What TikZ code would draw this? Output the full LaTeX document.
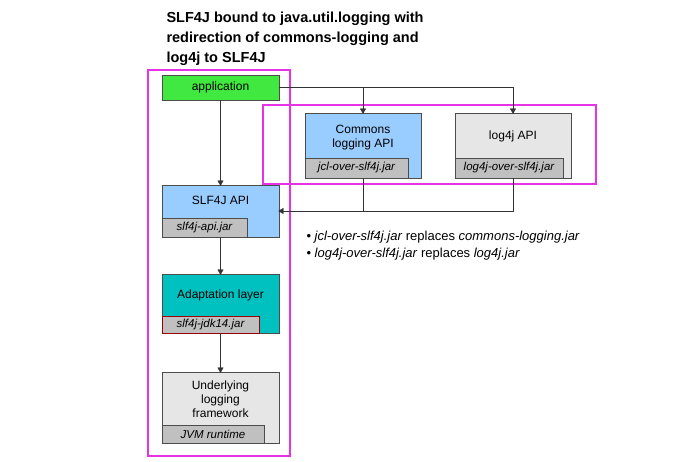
\documentclass[tikz,border=0pt]{standalone}
\usepackage{fontspec}
\setmainfont{Liberation Sans}
\usetikzlibrary{positioning,arrows}
\begin{document}
\begin{tikzpicture}[x=1pt,y=-1pt,
box/.style={draw=black!70, minimum width=117pt, font=\fontsize{12}{14}\selectfont, align=center, inner sep=0pt},
jar/.style={draw=black!70, fill=jargray, minimum height=19pt, inner sep=2pt, font=\fontsize{11.5}{13}\selectfont\itshape, anchor=south west},
frame/.style={draw=framemag, line width=2.4pt},
conn/.style={draw=black!80, -triangle 60, shorten >=-1pt}
]
\definecolor{appgreen}{HTML}{40E840}
\definecolor{apiblue}{HTML}{99CCFF}
\definecolor{adteal}{HTML}{00C0C0}
\definecolor{lightgray}{HTML}{E6E6E6}
\definecolor{jargray}{HTML}{C0C0C0}
\definecolor{framemag}{HTML}{E633E6}
\useasboundingbox (0,0) rectangle (676,461);
% title
\node[anchor=north west, align=left, font=\fontsize{14.5}{20}\selectfont\bfseries] (title) at (163,8)
  {SLF4J bound to java.util.logging with\\redirection of commons-logging and\\log4j to SLF4J};
% left column
\node[box, fill=appgreen, minimum height=25pt] (app) at (220.5,87.5) {application};
\node[box, fill=apiblue, minimum height=52pt, text depth=22pt] (slf) at (220.5,211) {SLF4J API};
\node[jar, minimum width=85pt] (slfjar) at (slf.south west) {slf4j-api.jar};
\node[box, fill=adteal, minimum height=59pt, text depth=18pt] (adapt) at (220.5,303.5) {Adaptation layer};
\node[jar, draw=red!60!black, minimum width=97pt, minimum height=17pt] (adjar) at (adapt.south west) {slf4j-jdk14.jar};
\node[box, fill=lightgray, minimum height=71pt, text depth=16pt] (under) at (220.5,407.5) {Underlying\\logging\\framework};
\node[jar, minimum width=102pt, minimum height=18pt] (underjar) at (under.south west) {JVM runtime};
% redirected APIs
\node[box, fill=apiblue, minimum width=116pt, minimum height=65pt, text depth=18pt] (jcl) at (363,145.5) {Commons\\logging API};
\node[jar, minimum width=103pt, minimum height=20pt] (jcljar) at (jcl.south west) {jcl-over-slf4j.jar};
\node[box, fill=lightgray, minimum width=116pt, minimum height=65pt, text depth=20pt] (l4j) at (513,145.5) {log4j API};
\node[jar, minimum width=108pt, minimum height=20pt] (l4jjar) at (l4j.south west) {log4j-over-slf4j.jar};
% frames
\draw[frame] (148,70) rectangle (290,456);
\draw[frame] (263,105) rectangle (596,184);
% connectors
\draw[conn] (app.east) -| (l4j.north);
\draw[conn] (app.east -| jcl.north) -- (jcl.north);
\draw[conn] (app) -- (slf);
\coordinate (merge) at (513,211);
\draw[conn] (l4j.south) |- (slf.east |- merge);
\draw[draw=black!80] (jcl.south) -- (jcl.south |- merge);
\draw[conn] (slf) -- (adapt);
\draw[conn] (adapt) -- (under);
% notes
\node[anchor=north west, align=left, font=\fontsize{13}{17}\selectfont] (notes) at (303,228)
  {\textbullet\ \textit{jcl-over-slf4j.jar} replaces \textit{commons-logging.jar}\\
   \textbullet\ \textit{log4j-over-slf4j.jar} replaces \textit{log4j.jar}};
\end{tikzpicture}
\end{document}
